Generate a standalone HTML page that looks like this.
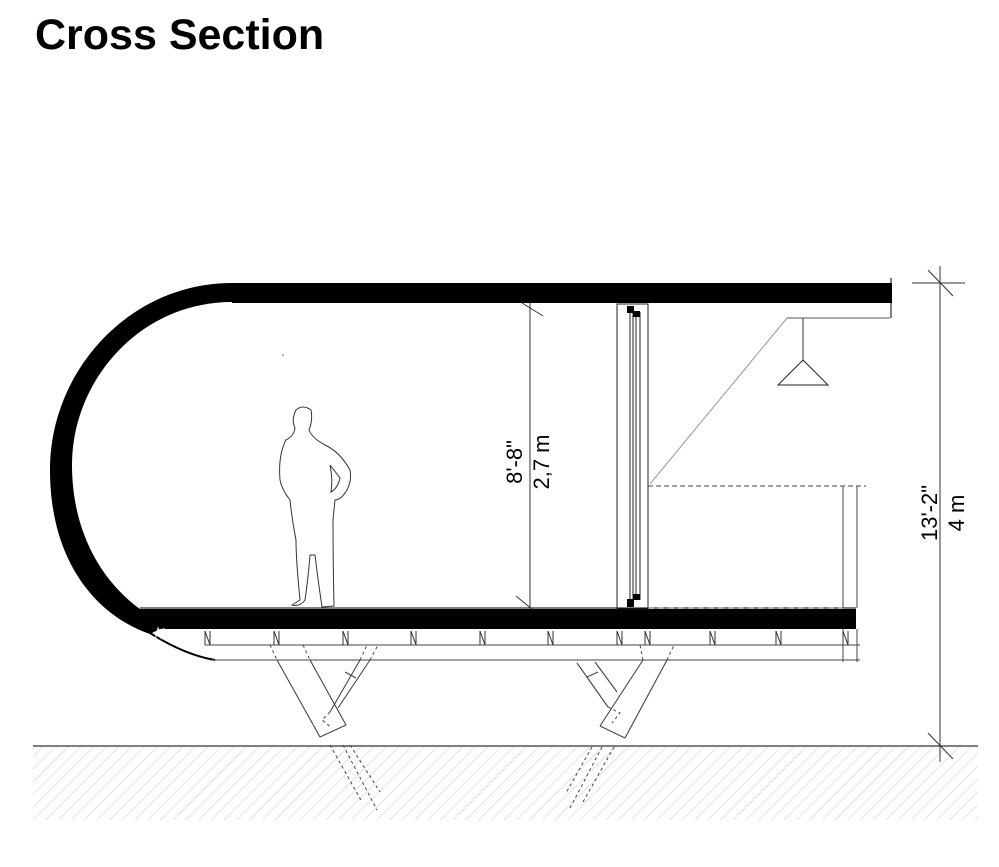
<!DOCTYPE html>
<html><head><style>
body{margin:0;background:#fff;width:999px;height:867px;overflow:hidden}
h1{position:absolute;left:35px;top:11px;margin:0;font:bold 43px "Liberation Sans",sans-serif;color:#000}
svg{position:absolute;left:0;top:0}
text{font-family:"Liberation Sans",sans-serif;font-size:22px}
</style></head><body>
<h1>Cross Section</h1>
<svg width="999" height="867" viewBox="0 0 999 867">
<defs>
<pattern id="h" width="9" height="9" patternUnits="userSpaceOnUse" patternTransform="rotate(45)">
<line x1="0" y1="0" x2="0" y2="9" stroke="#c8c8c8" stroke-width="1"/>
</pattern>
</defs>
<rect x="33" y="747" width="945" height="73" fill="url(#h)"/>
<line x1="33" y1="746" x2="978" y2="746" stroke="#333" stroke-width="1.3"/>
<!-- shell -->
<path d="M232,283 C130,283 50,370 50,470 C50,560 95,615 150,634 L160,629 L232,629 Z" fill="#000"/>
<rect x="230" y="283" width="662" height="20" fill="#000"/>
<path d="M232,302 C140,302 72,380 72,465 C72,530 100,580 140,609 L232,609 Z" fill="#fff"/>
<rect x="229" y="303" width="661" height="306" fill="#fff"/>
<rect x="140" y="609" width="716" height="20" fill="#000"/>
<line x1="140" y1="608" x2="856" y2="608" stroke="#000" stroke-width="1"/>
<path d="M150,633 Q185,655 215,660" fill="none" stroke="#000" stroke-width="2"/>
<line x1="891" y1="278" x2="891" y2="318" stroke="#000"/>
<!-- joists -->
<line x1="205" y1="645" x2="860" y2="645" stroke="#444"/>
<line x1="210" y1="660" x2="860" y2="660" stroke="#444"/>
<line x1="843" y1="629" x2="843" y2="662" stroke="#444"/>
<line x1="857" y1="629" x2="857" y2="662" stroke="#444"/>
<g stroke="#333" fill="none">
<path d="M205,645 v-14 l5,14 v-14"/><path d="M274,645 v-14 l5,14 v-14"/><path d="M343,645 v-14 l5,14 v-14"/>
<path d="M411,645 v-14 l5,14 v-14"/><path d="M480,645 v-14 l5,14 v-14"/><path d="M548,645 v-14 l5,14 v-14"/>
<path d="M617,645 v-14 l5,14 v-14"/><path d="M645,645 v-14 l5,14 v-14"/><path d="M710,645 v-14 l5,14 v-14"/>
<path d="M776,645 v-14 l5,14 v-14"/><path d="M843,645 v-14 l5,14 v-14"/>
</g>
<path d="M155,640 l3,-12 l3,10 l3,-10" stroke="#fff" fill="none"/>
<!-- legs -->
<g stroke="#444" fill="none" stroke-width="1.1">
<line x1="277" y1="660" x2="320" y2="737"/><line x1="310" y1="660" x2="346" y2="725"/>
<line x1="320" y1="737" x2="346" y2="725"/>
<line x1="360" y1="660" x2="330" y2="712"/><line x1="370" y1="660" x2="338" y2="708"/>
<line x1="345" y1="672" x2="356" y2="678"/>
<line x1="643" y1="660" x2="600" y2="726"/><line x1="667" y1="660" x2="625" y2="738"/>
<line x1="600" y1="726" x2="625" y2="738"/>
<line x1="577" y1="663" x2="608" y2="707"/><line x1="595" y1="662" x2="617" y2="692"/>
<line x1="587" y1="677" x2="598" y2="672"/>
</g>
<g stroke="#444" fill="none" stroke-dasharray="3,3">
<line x1="270" y1="645" x2="277" y2="660"/><line x1="303" y1="645" x2="310" y2="660"/>
<line x1="360" y1="660" x2="367" y2="645"/><line x1="370" y1="660" x2="378" y2="645"/>
<line x1="330" y1="745" x2="362" y2="802"/><line x1="343" y1="745" x2="377" y2="810"/><line x1="350" y1="745" x2="380" y2="792"/>
<path d="M330,712 l-8,8 l10,8"/>
<line x1="643" y1="660" x2="640" y2="645"/><line x1="667" y1="660" x2="674" y2="645"/>
<line x1="592" y1="747" x2="566" y2="793"/><line x1="602" y1="747" x2="569" y2="810"/><line x1="614" y1="747" x2="583" y2="802"/>
<path d="M608,707 l12,6 l-8,10"/>
</g>
<!-- height dim -->
<line x1="530" y1="303" x2="530" y2="608" stroke="#333"/>
<line x1="522" y1="303" x2="543" y2="316" stroke="#333"/>
<line x1="516" y1="596" x2="533" y2="610" stroke="#333"/>
<text transform="translate(522,462) rotate(-90)" text-anchor="middle">8'-8"</text>
<text transform="translate(549,462) rotate(-90)" text-anchor="middle">2,7 m</text>
<!-- window -->
<g stroke="#222" fill="none">
<rect x="617" y="304" width="31" height="305"/>
<line x1="630" y1="312" x2="630" y2="600"/><line x1="633" y1="312" x2="633" y2="600"/>
<line x1="636" y1="312" x2="636" y2="600"/><line x1="640" y1="312" x2="640" y2="600"/>
</g>
<rect x="627" y="306" width="7" height="7" fill="#000"/><rect x="633" y="311" width="7" height="6" fill="#000"/>
<rect x="627" y="599" width="7" height="8" fill="#000"/><rect x="633" y="594" width="7" height="6" fill="#000"/>
<!-- kitchen -->
<line x1="650" y1="484" x2="787" y2="318" stroke="#999"/>
<line x1="787" y1="318" x2="890" y2="318" stroke="#555"/>
<line x1="803" y1="318" x2="803" y2="360" stroke="#333"/>
<path d="M803,360 L778,385 L828,385 Z" fill="none" stroke="#222"/>
<line x1="648" y1="486" x2="866" y2="486" stroke="#444" stroke-dasharray="5,3"/>
<line x1="843" y1="486" x2="843" y2="608" stroke="#444"/>
<line x1="857" y1="486" x2="857" y2="608" stroke="#444"/>
<line x1="648" y1="608" x2="843" y2="608" stroke="#666" stroke-dasharray="6,4"/>
<!-- overall dim -->
<line x1="940" y1="266" x2="940" y2="762" stroke="#333"/>
<line x1="912" y1="283" x2="965" y2="283" stroke="#333"/>
<line x1="928" y1="270" x2="953" y2="296" stroke="#333"/>
<line x1="930" y1="746" x2="978" y2="746" stroke="#333"/>
<line x1="928" y1="733" x2="953" y2="759" stroke="#333"/>
<text transform="translate(937,513) rotate(-90)" text-anchor="middle">13'-2"</text>
<text transform="translate(964,513) rotate(-90)" text-anchor="middle">4 m</text>
<!-- person -->
<path d="M296,410 Q303,404 311,410 Q313,420 309,430 Q312,438 325,445 Q340,452 350,470 Q352,480 347,490 Q341,500 335,500 L333,520 Q333,560 334,606 L322,607 Q318,580 315,555 L310,555 Q308,580 305,600 Q300,607 292,605 L300,600 Q296,560 296,540 Q292,520 290,500 Q282,490 280,480 Q278,455 286,440 Q294,436 295,428 Q291,420 296,410 Z M330,465 Q333,480 331,492 Q338,488 340,478 Z" fill="#fff" stroke="#333" stroke-width="1"/>
<circle cx="283" cy="355" r="0.8" fill="#555"/>
</svg>
</body></html>
